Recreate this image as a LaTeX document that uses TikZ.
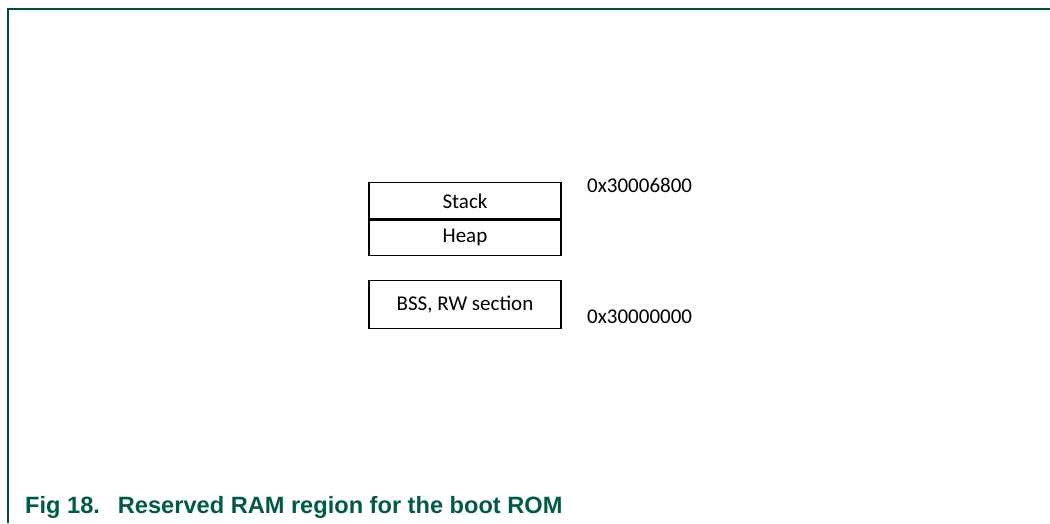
\documentclass[tikz,border=0pt]{standalone}
\usepackage{fontspec}
\setmainfont{Carlito}
\newfontfamily\figcapfont{Liberation Sans}
\usetikzlibrary{positioning}
\definecolor{framegreen}{HTML}{004D3C}
\definecolor{capgreen}{HTML}{005A47}
\tikzset{
    membox/.style={rectangle, draw, line width=1.2pt, minimum width=192pt, inner sep=0pt, font=\fontsize{21}{25}\selectfont},
    addr/.style={anchor=west, inner sep=0pt, font=\fontsize{21}{25}\selectfont}
}
\begin{document}
\begin{tikzpicture}[x=1pt, y=1pt]
            \useasboundingbox (0, 0) rectangle (1050, 523);

            \coordinate (tl) at (8, 514);
            \coordinate (tr) at (1050, 514);
            \coordinate (bl) at (8, 0);
            \draw[framegreen, line width=1.8pt] (bl) -- (tl) -- (tr);

            \node[membox, minimum height=36.3pt] (stack) at (465, 322.15) {Stack};
            \node[membox, minimum height=35pt, below=0pt of stack] (heap) {Heap};
            \node[membox, minimum height=48pt, below=23.7pt of heap] (bss) {BSS, RW section};

            \node[addr] (top) at (587, 338) {0x30006800};
            \node[addr] (base) at (587, 206.3) {0x30000000};

            \node[anchor=base west, inner sep=0pt, text=capgreen, font=\figcapfont\bfseries\fontsize{23.6}{28}\selectfont] (cap) at (25, 10) {Fig 18.\hspace{18pt}Reserved RAM region for the boot ROM};
        \end{tikzpicture}
\end{document}
